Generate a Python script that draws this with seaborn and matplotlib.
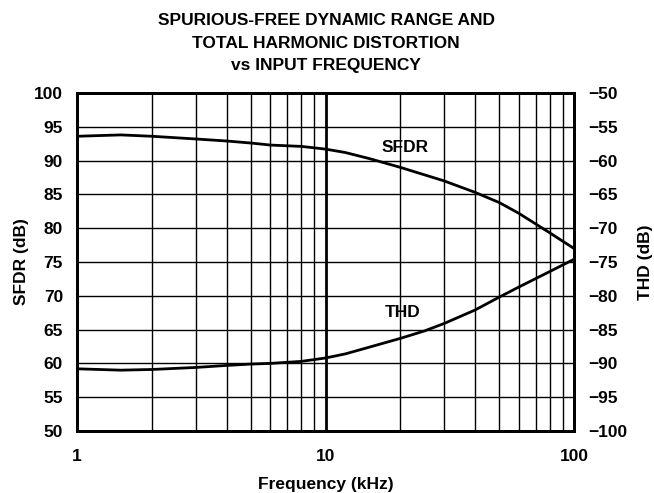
import numpy as np
import pandas as pd
import matplotlib
matplotlib.use("Agg")
import matplotlib.pyplot as plt
import seaborn as sns
from matplotlib.ticker import FixedLocator, NullFormatter

# values
freq = [1, 1.5, 2, 3, 4, 5, 6, 8, 10, 12, 15, 20, 25, 30, 40, 50, 60, 80, 100]
sfdr = [93.6, 93.8, 93.6, 93.2, 92.9, 92.6, 92.3, 92.1, 91.7, 91.2, 90.3, 89.0, 87.9, 87.0, 85.3, 83.8, 82.2, 79.3, 77.0]
thd = [-90.8, -91.0, -90.9, -90.6, -90.3, -90.1, -90.0, -89.7, -89.2, -88.6, -87.6, -86.3, -85.2, -84.1, -82.1, -80.2, -78.7, -76.4, -74.6]

title = "SPURIOUS-FREE DYNAMIC RANGE AND\nTOTAL HARMONIC DISTORTION\nvs INPUT FREQUENCY"
left_ticks = [50, 55, 60, 65, 70, 75, 80, 85, 90, 95, 100]
right_ticks = [-100, -95, -90, -85, -80, -75, -70, -65, -60, -55, -50]
right_labels = ["\u2212" + str(-v) for v in right_ticks]

df = pd.DataFrame({"freq": freq, "sfdr": sfdr, "thd": thd})

sns.set_style("white")
plt.rcParams["font.family"] = ["Liberation Sans", "DejaVu Sans"]
plt.rcParams["font.weight"] = "bold"
plt.rcParams["text.color"] = "black"
plt.rcParams["axes.labelcolor"] = "black"

fs = 12.5

fig = plt.figure(figsize=(6.54, 4.93), dpi=100)
ax = fig.add_axes([77/654, 62/493, 497/654, 338/493])

sns.lineplot(data=df, x="freq", y="sfdr", ax=ax, color="black", linewidth=2, zorder=5)
ax.set_xscale("log")
ax.set_xlim(1, 100)
ax.set_ylim(50, 100)

ax2 = ax.twinx()
sns.lineplot(data=df, x="freq", y="thd", ax=ax2, color="black", linewidth=2, zorder=5)
ax2.set_ylim(-100, -50)

# grid
minor = [m * d for d in (1, 10) for m in range(2, 10)]
ax.xaxis.set_minor_locator(FixedLocator(minor))
ax.xaxis.set_minor_formatter(NullFormatter())
ax.set_xticks([1, 10, 100])
ax.set_xticklabels(["1", "10", "100"])
for x in minor:
    ax.axvline(x, color="black", linewidth=1.0, zorder=1)
ax.axvline(10, color="black", linewidth=2, zorder=1)
for y in left_ticks[1:-1]:
    ax.axhline(y, color="black", linewidth=1.0, zorder=1)

ax.set_yticks(left_ticks)
ax2.set_yticks(right_ticks)
ax2.set_yticklabels(right_labels)

for a in (ax, ax2):
    for s in a.spines.values():
        s.set_linewidth(2)
        s.set_color("black")
    a.tick_params(which="both", length=0, labelsize=fs, colors="black")
ax.tick_params(axis="y", pad=10)
ax.tick_params(axis="x", pad=13)
ax2.tick_params(axis="y", pad=10)

ax.set_xlabel("Frequency (kHz)", fontsize=fs, fontweight="bold")
ax.set_ylabel("SFDR (dB)", fontsize=fs, fontweight="bold")
ax2.set_ylabel("THD (dB)", fontsize=fs, fontweight="bold")
ax.xaxis.set_label_coords(0.5, -0.157)
ax.yaxis.set_label_coords(-0.111, 0.5)
ax2.yaxis.set_label_coords(1.143, 0.5)
ax.xaxis.label.set_va("center")
ax.yaxis.label.set_va("center")
ax2.yaxis.label.set_va("center")

ax.text(21, 92.0, "SFDR", fontsize=fs, fontweight="bold", ha="center", va="center", zorder=6)
ax.text(20.5, 67.5, "THD", fontsize=fs, fontweight="bold", ha="center", va="center", zorder=6)

fig.text(326/654, 1 - 43/493, title, fontsize=fs, fontweight="bold", ha="center", va="center",
         linespacing=1.62)

fig.savefig("out.png", dpi=100)
